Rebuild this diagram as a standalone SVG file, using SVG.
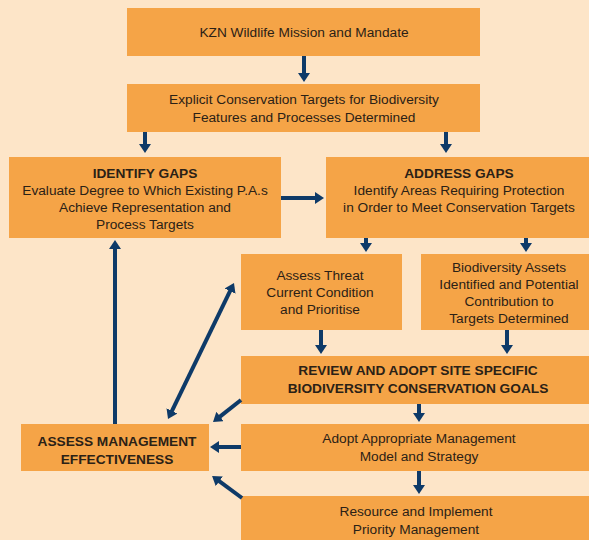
<svg xmlns="http://www.w3.org/2000/svg" width="589" height="540" viewBox="0 0 589 540">
<style>
.bx{fill:#f5a447}
.t{font-family:"Liberation Sans",Arial,sans-serif;font-size:13.7px;fill:#2b2116;text-anchor:middle}
.b{font-weight:bold}
.c line{stroke:#0e3a68;stroke-width:4}
</style>
<defs>
<marker id="ah" markerUnits="userSpaceOnUse" markerWidth="11" markerHeight="12" refX="1" refY="6" orient="auto-start-reverse" viewBox="0 0 11 12">
<path d="M0,0 L9,6 L0,12 z" fill="#0e3a68"/>
</marker>
</defs>
<rect width="589" height="540" fill="#fde5c8"/>
<g id="n1"><rect class="bx" x="127" y="8" width="353" height="48"/>
<text class="t" x="304" y="36.5">KZN Wildlife Mission and Mandate</text></g>
<g id="n2"><rect class="bx" x="127" y="84" width="353" height="48"/>
<text class="t" x="304" y="104">Explicit Conservation Targets for Biodiversity</text>
<text class="t" x="304" y="122">Features and Processes Determined</text></g>
<g id="n3"><rect class="bx" x="9" y="157" width="272" height="81"/>
<text class="t b" x="145" y="177.5">IDENTIFY GAPS</text>
<text class="t" x="145" y="195">Evaluate Degree to Which Existing P.A.s</text>
<text class="t" x="145" y="212">Achieve Representation and</text>
<text class="t" x="145" y="228.5">Process Targets</text></g>
<g id="n4"><rect class="bx" x="326" y="157" width="263" height="81"/>
<text class="t b" x="459" y="177.5">ADDRESS GAPS</text>
<text class="t" x="459" y="195">Identify Areas Requiring Protection</text>
<text class="t" x="459" y="212">in Order to Meet Conservation Targets</text></g>
<g id="n5"><rect class="bx" x="241" y="254" width="161" height="76"/>
<text class="t" x="320" y="279.5">Assess Threat</text>
<text class="t" x="320" y="296.5">Current Condition</text>
<text class="t" x="320" y="313.5">and Prioritise</text></g>
<g id="n6"><rect class="bx" x="421" y="254" width="168" height="76"/>
<text class="t" x="509" y="271.5">Biodiversity Assets</text>
<text class="t" x="509" y="288.5">Identified and Potential</text>
<text class="t" x="509" y="305.5">Contribution to</text>
<text class="t" x="509" y="322.5">Targets Determined</text></g>
<g id="n7"><rect class="bx" x="241" y="356" width="348" height="48"/>
<text class="t b" x="418" y="375">REVIEW AND ADOPT SITE SPECIFIC</text>
<text class="t b" x="418" y="393">BIODIVERSITY CONSERVATION GOALS</text></g>
<g id="n8"><rect class="bx" x="241" y="424" width="348" height="47"/>
<text class="t" x="419" y="442.5">Adopt Appropriate Management</text>
<text class="t" x="419" y="460.5">Model and Strategy</text></g>
<g id="n9"><rect class="bx" x="241" y="496" width="348" height="44"/>
<text class="t" x="416" y="515.5">Resource and Implement</text>
<text class="t" x="416" y="533.5">Priority Management</text></g>
<g id="n10"><rect class="bx" x="21" y="424" width="188" height="47"/>
<text class="t b" x="117" y="446">ASSESS MANAGEMENT</text>
<text class="t b" x="117" y="464">EFFECTIVENESS</text></g>
<g class="c" id="connectors">
<line x1="304" y1="56" x2="304" y2="74" marker-end="url(#ah)"/>
<line x1="145" y1="132" x2="145" y2="145" marker-end="url(#ah)"/>
<line x1="446" y1="132" x2="446" y2="145" marker-end="url(#ah)"/>
<line x1="281" y1="198" x2="316" y2="198" marker-end="url(#ah)"/>
<line x1="366" y1="238" x2="366" y2="244" marker-end="url(#ah)"/>
<line x1="526" y1="238" x2="526" y2="244" marker-end="url(#ah)"/>
<line x1="321" y1="330" x2="321" y2="346" marker-end="url(#ah)"/>
<line x1="507" y1="330" x2="507" y2="346" marker-end="url(#ah)"/>
<line x1="419" y1="404" x2="419" y2="414" marker-end="url(#ah)"/>
<line x1="419" y1="471" x2="419" y2="486" marker-end="url(#ah)"/>
<line x1="115" y1="424" x2="115" y2="248" marker-end="url(#ah)"/>
<line x1="241" y1="447" x2="218" y2="447" marker-end="url(#ah)"/>
<line x1="241" y1="400" x2="219.3" y2="417.1" marker-end="url(#ah)"/>
<line x1="242" y1="498" x2="218.5" y2="480.7" marker-end="url(#ah)"/>
<line x1="230.5" y1="290.2" x2="171.5" y2="411.8" marker-start="url(#ah)" marker-end="url(#ah)"/>
</g>
</svg>
